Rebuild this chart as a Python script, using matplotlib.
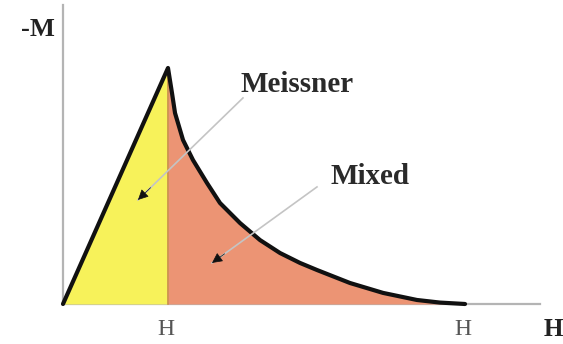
import matplotlib.pyplot as plt

# magnetisation curve of a type II superconductor (units: H / Hc1, M / M_peak)
rise_h = [0.0, 1.0]
rise_m = [0.0, 1.0]
decay_h = [1.0, 1.038, 1.067, 1.143, 1.238, 1.371, 1.495, 1.686, 1.876, 2.067,
           2.257, 2.419, 2.733, 3.048, 3.371, 3.59, 3.829]
decay_m = [1.0, 0.894, 0.809, 0.695, 0.61, 0.513, 0.428, 0.343, 0.271, 0.216,
           0.174, 0.144, 0.089, 0.047, 0.017, 0.006, 0.0]
tick_pos = [1.0, 3.829]
tick_labels = ["H", "H"]

serif = ["Liberation Serif", "DejaVu Serif"]

fig = plt.figure(figsize=(5.63, 3.44), dpi=100)
ax = fig.add_axes([0, 0, 1, 1])
ax.set_xlim(-0.6, 4.762)
ax.set_ylim(-0.1695, 1.288)
ax.axis("off")

# axes drawn by hand, light grey
ax.plot([0, 0], [0, 1.267], color="#b4b4b4", lw=1.6, zorder=1)
ax.plot([0, 4.54], [0, 0], color="#b4b4b4", lw=1.6, zorder=1)

# regions
ax.fill_between(rise_h, rise_m, 0, color="#f7f25a", lw=0, zorder=2)
ax.fill_between(decay_h, decay_m, 0, color="#ec9474", lw=0, zorder=2)
ax.plot([1.0, 1.0], [0, 1.0], color="#c98a4c", lw=1.2, zorder=3)

# outline
ax.plot(rise_h + decay_h[1:], rise_m + decay_m[1:], color="#111111", lw=3.0,
        solid_joinstyle="round", solid_capstyle="round", zorder=4)

# labels
ax.text(-0.238, 1.161, "-M", family=serif, weight="bold", fontsize=19,
        color="#222222", ha="center", va="center")
for x, lab in zip(tick_pos, tick_labels):
    ax.text(x - 0.02, -0.106, lab, family=serif, fontsize=17, color="#555555",
            ha="center", va="center")
ax.text(4.667, -0.106, "H", family=serif, weight="bold", fontsize=18,
        color="#222222", ha="center", va="center")

ax.text(2.229, 0.928, "Meissner", family=serif, weight="bold", fontsize=21,
        color="#2a2a2a", ha="center", va="center")
ax.text(2.924, 0.542, "Mixed", family=serif, weight="bold", fontsize=21,
        color="#2a2a2a", ha="center", va="center")

# pointer lines with small black heads
for start, tip in [((1.714, 0.873), (0.714, 0.441)), ((2.419, 0.496), (1.419, 0.174))]:
    ax.plot([start[0], tip[0]], [start[1], tip[1]], color="#c4c4c4", lw=1.2, zorder=5)
    back = (tip[0] + 0.12 * (start[0] - tip[0]), tip[1] + 0.12 * (start[1] - tip[1]))
    ax.annotate("", xy=tip, xytext=back,
                arrowprops=dict(arrowstyle="-|>", color="#111111", lw=0.5,
                                mutation_scale=16, shrinkA=0, shrinkB=0),
                zorder=6)

fig.savefig("out.png", dpi=100)
